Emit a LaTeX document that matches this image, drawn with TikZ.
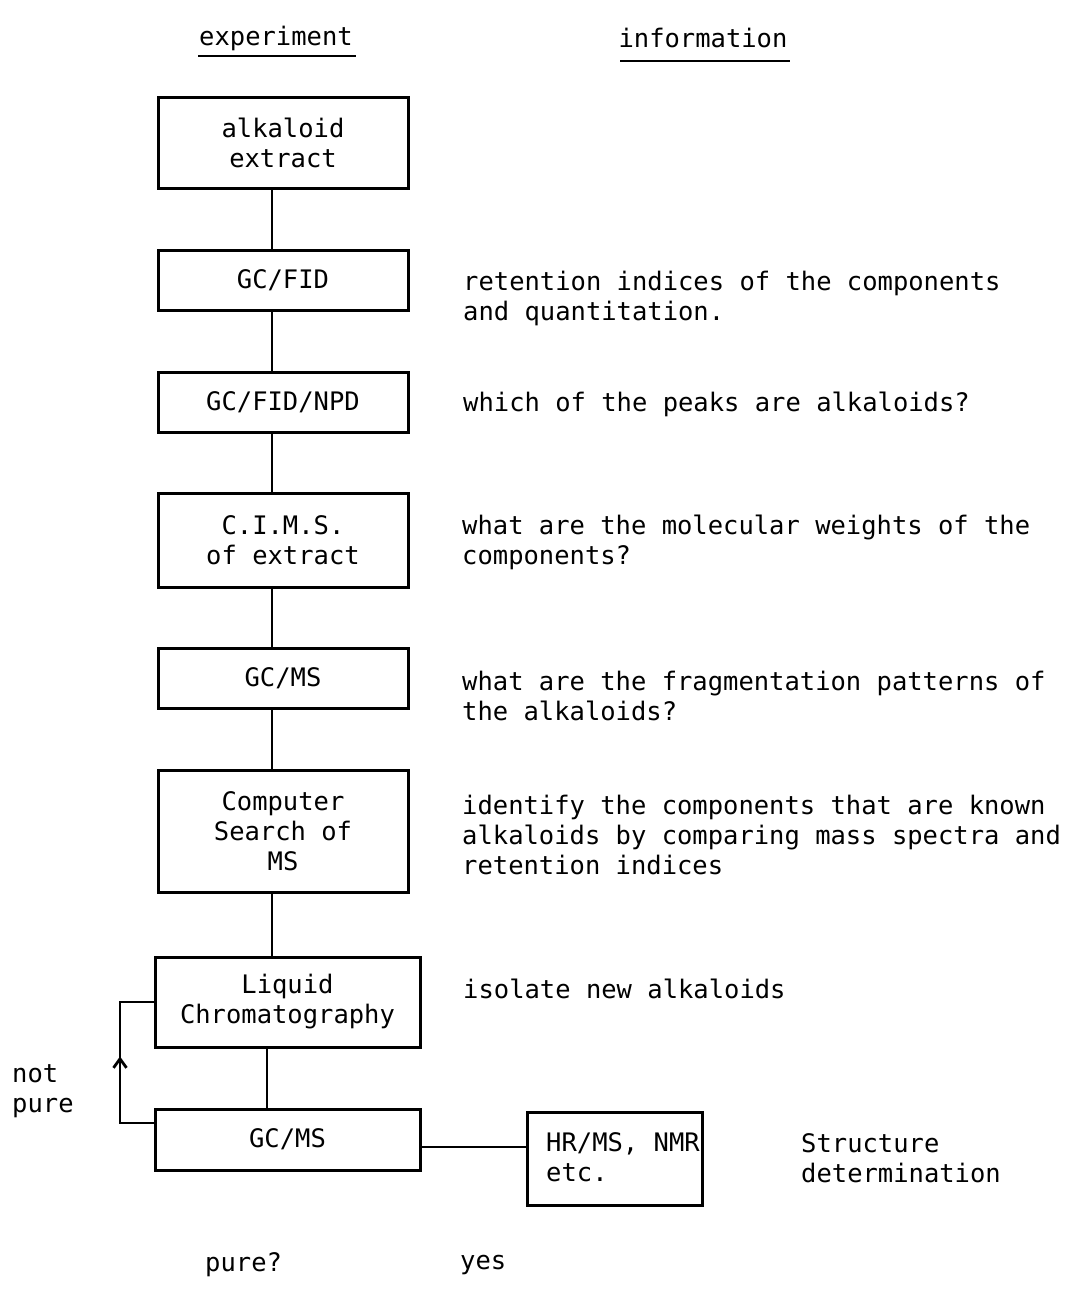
\documentclass[tikz,border=0pt]{standalone}
\usepackage{fontspec}
\setmonofont{DejaVu Sans Mono}
\usetikzlibrary{calc,arrows.meta}
\begin{document}
\begin{tikzpicture}[x=1pt,y=-1pt,
  txt/.style={font=\ttfamily\fontsize{25.5}{30}\selectfont, inner sep=0pt},
  box/.style={txt, draw, line width=3pt, align=center},
  info/.style={txt, anchor=west, align=left},
  conn/.style={line width=2.8pt}
]
\useasboundingbox (0,0) rectangle (1070,1290);
% headers
\node[txt, anchor=base] (exp) at (276,46) {experiment};
\draw[conn] (198,56) coordinate (u1) -- (356,56) coordinate (u2);
\node[txt, anchor=base] (inf) at (703,48) {information};
\draw[conn] (620,61) coordinate (u3) -- (790,61) coordinate (u4);
% boxes
\node[box, minimum width=250, minimum height=91] (ae) at (283,142.5) {alkaloid\\extract};
\node[box, minimum width=250, minimum height=60] (fid) at (283,280) {GC/FID};
\node[box, minimum width=250, minimum height=60] (npd) at (283,402) {GC/FID/NPD};
\node[box, minimum width=250, minimum height=94] (cims) at (283,540) {C.I.M.S.\\of extract};
\node[box, minimum width=250, minimum height=60] (ms1) at (283,678) {GC/MS};
\node[box, minimum width=250, minimum height=122] (cs) at (283,831) {Computer\\Search of\\MS};
\node[box, minimum width=265, minimum height=90] (lc) at (287.5,1002) {Liquid\\Chromatography};
\node[box, minimum width=265, minimum height=61] (ms2) at (287.5,1139.5) {GC/MS};
\node[box, minimum width=175, minimum height=93] (hr) at (614.5,1158.5) {};
\node[info] (hrt) at (546,1157) {HR/MS, NMR\\etc.};
% connectors
\coordinate (lx) at (272,0);
\coordinate (lx2) at (267,0);
\draw[conn] (ae.south -| lx) -- (fid.north -| lx);
\draw[conn] (fid.south -| lx) -- (npd.north -| lx);
\draw[conn] (npd.south -| lx) -- (cims.north -| lx);
\draw[conn] (cims.south -| lx) -- (ms1.north -| lx);
\draw[conn] (ms1.south -| lx) -- (cs.north -| lx);
\draw[conn] (cs.south -| lx) -- (lc.north -| lx);
\draw[conn] (lc.south -| lx2) -- (ms2.north -| lx2);
\coordinate (hy) at (0,1147);
\draw[conn] (ms2.east |- hy) -- (hr.west |- hy);
% feedback
\coordinate (fbl) at (120,1123);
\draw[conn] (ms2.west |- fbl) -- (fbl) |- (lc.west);
\draw[conn, -{Straight Barb[length=9pt,width=13pt]}] (fbl) -- ($(fbl)!0.55!(fbl |- lc.west)$);
% info texts
\node[info] (i1) at (463,298) {retention indices of the components\\and quantitation.};
\node[info] (i2) at (463,404) {which of the peaks are alkaloids?};
\node[info] (i3) at (462,542) {what are the molecular weights of the\\components?};
\node[info] (i4) at (462,696) {what are the fragmentation patterns of\\the alkaloids?};
\node[info] (i5) at (462,835) {identify the components that are known\\alkaloids by comparing mass spectra and\\retention indices};
\node[info] (i6) at (463,989) {isolate new alkaloids};
\node[info] (i7) at (801,1158) {Structure\\determination};
% decision labels
\node[info] (np) at (12,1091) {not\\pure};
\node[txt, anchor=west] (pq) at (205,1265) {pure?};
\node[txt, anchor=west] (ys) at (460,1265) {yes};
\end{tikzpicture}
\end{document}
